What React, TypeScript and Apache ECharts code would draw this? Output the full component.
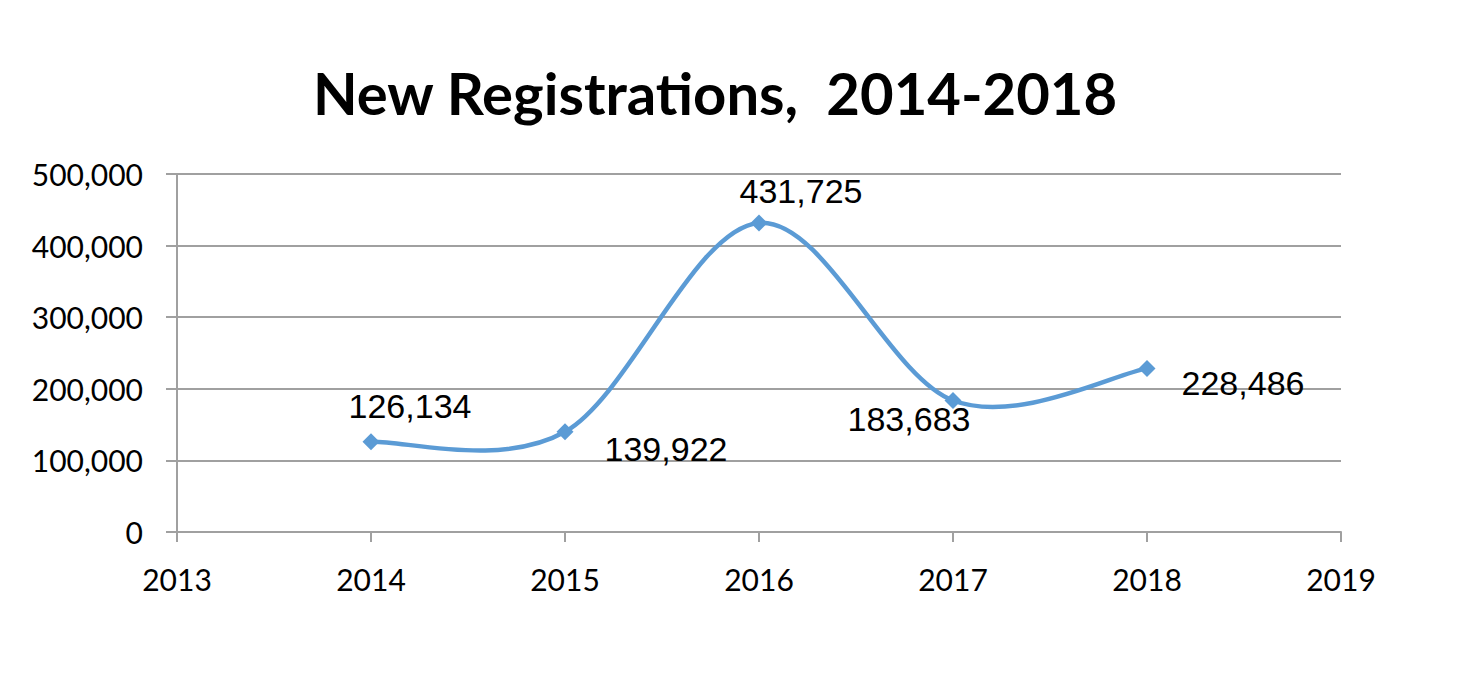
import React, { useEffect, useRef } from "react";
import * as echarts from "echarts";

const years = [2014, 2015, 2016, 2017, 2018];
const registrations = [126134, 139922, 431725, 183683, 228486];
const yTicks = [0, 100000, 200000, 300000, 400000, 500000];
const labelOffsets: [number, number][] = [
  [39, -36],
  [101, 17],
  [42, -32],
  [-44, 19],
  [96, 15],
];

const fmt = (v: number) => v.toLocaleString("en-US");
const LINE = "#5B9BD5";
const GRID = "#A0A0A0";

export default function App() {
  const ref = useRef<HTMLDivElement>(null);
  useEffect(() => {
    document.body.style.margin = "0";
    if (!ref.current) return;
    const chart = echarts.init(ref.current, null, { renderer: "svg" });
    const pts = years.map((y, i) => [y, registrations[i]]);
    chart.setOption({
      animation: false,
      backgroundColor: "#fff",
      title: {
        text: "New Registrations,  2014-2018",
        left: 710,
        textAlign: "center",
        top: 58,
        textStyle: {
          fontFamily: "Lato",
          fontWeight: "bold",
          fontSize: 58,
          color: "#000",
        },
      },
      grid: { left: 177, right: 131, top: 174, bottom: 141 },
      xAxis: {
        type: "value",
        min: 2013,
        max: 2019,
        interval: 1,
        axisLine: { show: true, lineStyle: { color: GRID, width: 2 } },
        axisTick: { show: true, length: 10, lineStyle: { color: GRID, width: 2 } },
        splitLine: { show: false },
        axisLabel: {
          margin: 32,
          fontFamily: "Lato",
          fontSize: 30,
          color: "#000",
          formatter: (v: number) => String(v),
        },
      },
      yAxis: {
        type: "value",
        min: yTicks[0],
        max: yTicks[yTicks.length - 1],
        interval: 100000,
        axisLine: { show: true, lineStyle: { color: GRID, width: 2 } },
        axisTick: { show: true, length: 11, lineStyle: { color: GRID, width: 2 } },
        splitLine: { show: true, lineStyle: { color: GRID, width: 2 } },
        axisLabel: {
          margin: 34,
          fontFamily: "Lato",
          fontSize: 30,
          color: "#000",
          formatter: (v: number) => fmt(v),
        },
      },
      series: [
        {
          type: "custom",
          data: pts.slice(0, pts.length - 1).map((p, i) => [p[0], p[1], i]),
          encode: { x: 0, y: 1 },
          z: 2,
          silent: true,
          renderItem: (params: any, api: any) => {
            const i = params.dataIndex;
            const c = pts.map((p) => api.coord(p));
            const p0 = c[i];
            const p1 = c[i + 1];
            const prev = i > 0 ? c[i - 1] : p0;
            const next = i + 2 < c.length ? c[i + 2] : p1;
            const k = 1 / 6;
            const cp1 = [p0[0] + (p1[0] - prev[0]) * k, p0[1] + (p1[1] - prev[1]) * k];
            const cp2 = [p1[0] - (next[0] - p0[0]) * k, p1[1] - (next[1] - p0[1]) * k];
            return {
              type: "bezierCurve",
              shape: {
                x1: p0[0], y1: p0[1],
                cpx1: cp1[0], cpy1: cp1[1],
                cpx2: cp2[0], cpy2: cp2[1],
                x2: p1[0], y2: p1[1],
              },
              style: { stroke: LINE, lineWidth: 4.5, fill: "none", lineCap: "round" },
            };
          },
        },
        {
          type: "line",
          data: pts.map((p, i) => ({
            value: p,
            label: { offset: labelOffsets[i] },
          })),
          z: 3,
          lineStyle: { width: 0, opacity: 0 },
          symbol: "diamond",
          symbolSize: 17,
          itemStyle: { color: LINE },
          label: {
            show: true,
            position: "inside",
            fontFamily: "Liberation Sans",
            fontSize: 34,
            color: "#000",
            formatter: (p: any) => fmt(p.value[1]),
          },
        },
      ],
    });
    return () => chart.dispose();
  }, []);
  return <div ref={ref} style={{ width: 1472, height: 673 }} />;
}
